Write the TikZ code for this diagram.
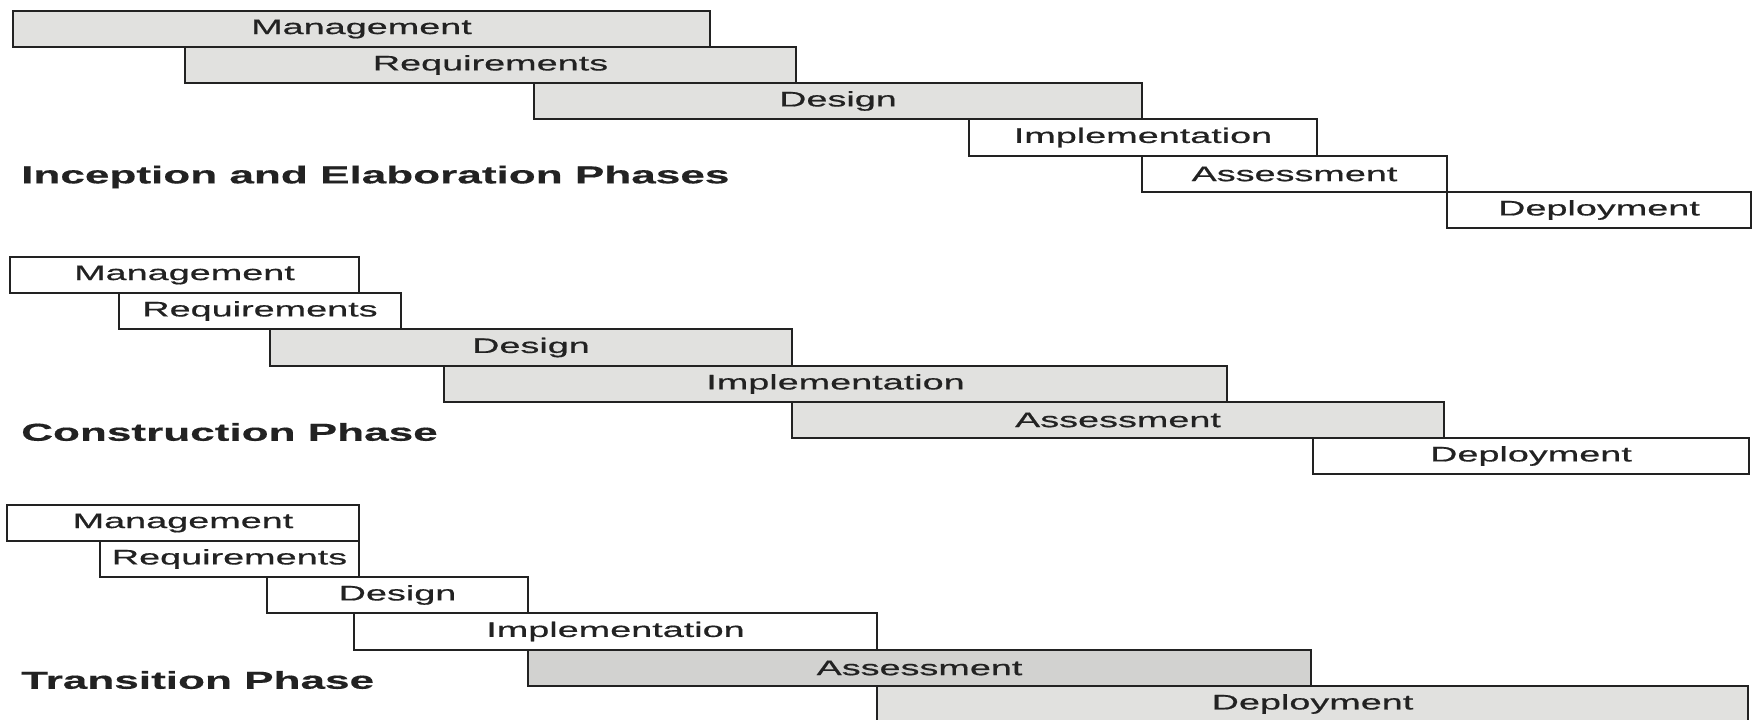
\documentclass[tikz,border=0pt]{standalone}
\usepackage{fontspec}
\newfontfamily\boxfont[FakeStretch=1.8,FakeBold=0.6]{Liberation Sans}
\newfontfamily\labfont[FakeStretch=1.8,FakeBold=0.4]{Liberation Sans Bold}
\definecolor{shade}{HTML}{E1E1DF}
\definecolor{shadedark}{HTML}{D2D2D0}
\definecolor{ink}{HTML}{222222}
\tikzset{
  phase/.style={draw=ink, line width=1.4pt, rectangle, inner sep=0pt, outer sep=0pt,
    text=ink, font=\boxfont\fontsize{21}{22}\selectfont},
  grey/.style={phase, fill=shade},
  darkgrey/.style={phase, fill=shadedark},
  white/.style={phase, fill=white},
  heading/.style={anchor=west, inner sep=0pt, text=ink, font=\labfont\fontsize{24.5}{26}\selectfont}
}
\begin{document}
\begin{tikzpicture}[x=1pt,y=-1pt]
\useasboundingbox[fill=white] (0,0) rectangle (1757,720);
% Inception and Elaboration
\node[grey,  minimum width=697pt, minimum height=36pt] (m1) at (361.5,29)  {Management};
\node[grey,  minimum width=611pt, minimum height=36pt] (r1) at (490.5,65)  {Requirements};
\node[grey,  minimum width=608pt, minimum height=36pt] (d1) at (838,101)   {Design};
\node[white, minimum width=348pt, minimum height=37pt] (i1) at (1143,137.5) {Implementation};
\node[white, minimum width=305pt, minimum height=36pt] (a1) at (1294.5,174) {Assessment};
\node[white, minimum width=304pt, minimum height=36pt] (p1) at (1599,210)  {Deployment};
\node[heading] (h1) at (21,177) {Inception and Elaboration Phases};
% Construction
\node[white, minimum width=349pt, minimum height=36pt] (m2) at (184.5,275) {Management};
\node[white, minimum width=282pt, minimum height=36pt] (r2) at (260,311)   {Requirements};
\node[grey,  minimum width=522pt, minimum height=37pt] (d2) at (531,347.5) {Design};
\node[grey,  minimum width=783pt, minimum height=36pt] (i2) at (835.5,384) {Implementation};
\node[grey,  minimum width=652pt, minimum height=36pt] (a2) at (1118,420)  {Assessment};
\node[white, minimum width=436pt, minimum height=36pt] (p2) at (1531,456)  {Deployment};
\node[heading] (h2) at (21,432) {Construction Phase};
% Transition
\node[white, minimum width=352pt, minimum height=36pt] (m3) at (183,523)   {Management};
\node[white, minimum width=259pt, minimum height=36pt] (r3) at (229.5,559) {Requirements};
\node[white, minimum width=261pt, minimum height=36pt] (d3) at (397.5,595) {Design};
\node[white, minimum width=523pt, minimum height=37pt] (i3) at (615.5,631.5) {Implementation};
\node[darkgrey, minimum width=783pt, minimum height=36pt] (a3) at (919.5,668) {Assessment};
\node[grey,  minimum width=871pt, minimum height=36pt] (p3) at (1312.5,704) {Deployment};
\node[heading] (h3) at (21,680) {Transition Phase};
\end{tikzpicture}
\end{document}
